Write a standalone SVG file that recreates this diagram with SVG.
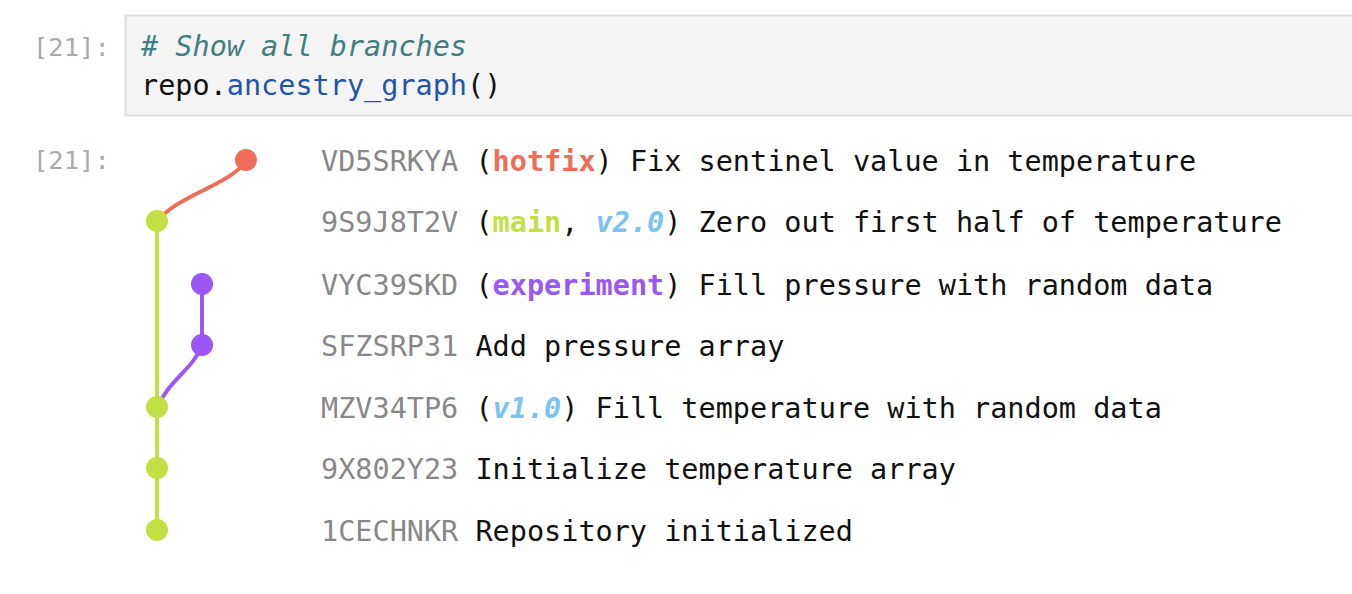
<svg xmlns="http://www.w3.org/2000/svg" width="1352" height="594" viewBox="0 0 1352 594">
<style>
.m{font-family:"DejaVu Sans Mono","Liberation Mono",monospace;font-size:28.5px;fill:#111}
.p{font-family:"DejaVu Sans Mono","Liberation Mono",monospace;font-size:25.5px;fill:#aaaaaa}
.h{fill:#888888}
.cm{fill:#3f7f7f;font-style:italic}
.fn{fill:#2356a8}
.hot{fill:#ef6c58;font-weight:bold}
.main{fill:#c2e043;font-weight:bold}
.exp{fill:#9a57f4;font-weight:bold}
.tag{fill:#7bc3f1;font-weight:bold;font-style:italic}
.ln{fill:none;stroke-width:4;stroke-linecap:round}
</style>
<rect width="1352" height="594" fill="#ffffff"/>
<g id="code-cell">
<rect x="125.5" y="15.5" width="1240" height="100" fill="#f4f4f4" stroke="#dedede" stroke-width="2"/>
<text class="p" x="33" y="56">[21]:</text>
<text class="m" x="141" y="56"><tspan class="cm"># Show all branches</tspan></text>
<text class="m" x="141" y="95">repo.<tspan class="fn">ancestry_graph</tspan>()</text>
</g>
<text class="p" x="33" y="169">[21]:</text>
<g id="connectors">
<line class="ln" x1="157" y1="221" x2="157" y2="530" stroke="#c2e043"/>
<line class="ln" x1="202" y1="284" x2="202" y2="345" stroke="#9a57f4"/>
<path class="ln" d="M246,161 C230,185 174,197 158,221" stroke="#ef6c58"/>
<path class="ln" d="M202,346 C192,370 167,382 158,407" stroke="#9a57f4"/>
</g>
<g id="VD5SRKYA"><circle cx="246" cy="160" r="11" fill="#ef6c58"/><text class="m" x="321" y="171" xml:space="preserve"><tspan class="h">VD5SRKYA</tspan> (<tspan class="hot">hotfix</tspan>) Fix sentinel value in temperature</text></g>
<g id="9S9J8T2V"><circle cx="157" cy="221" r="11" fill="#c2e043"/><text class="m" x="321" y="232" xml:space="preserve"><tspan class="h">9S9J8T2V</tspan> (<tspan class="main">main</tspan>, <tspan class="tag">v2.0</tspan>) Zero out first half of temperature</text></g>
<g id="VYC39SKD"><circle cx="202" cy="284" r="11" fill="#9a57f4"/><text class="m" x="321" y="295" xml:space="preserve"><tspan class="h">VYC39SKD</tspan> (<tspan class="exp">experiment</tspan>) Fill pressure with random data</text></g>
<g id="SFZSRP31"><circle cx="202" cy="345" r="11" fill="#9a57f4"/><text class="m" x="321" y="356" xml:space="preserve"><tspan class="h">SFZSRP31</tspan> Add pressure array</text></g>
<g id="MZV34TP6"><circle cx="157" cy="407" r="11" fill="#c2e043"/><text class="m" x="321" y="418" xml:space="preserve"><tspan class="h">MZV34TP6</tspan> (<tspan class="tag">v1.0</tspan>) Fill temperature with random data</text></g>
<g id="9X802Y23"><circle cx="157" cy="468" r="11" fill="#c2e043"/><text class="m" x="321" y="479" xml:space="preserve"><tspan class="h">9X802Y23</tspan> Initialize temperature array</text></g>
<g id="1CECHNKR"><circle cx="157" cy="530" r="11" fill="#c2e043"/><text class="m" x="321" y="541" xml:space="preserve"><tspan class="h">1CECHNKR</tspan> Repository initialized</text></g>
</svg>
